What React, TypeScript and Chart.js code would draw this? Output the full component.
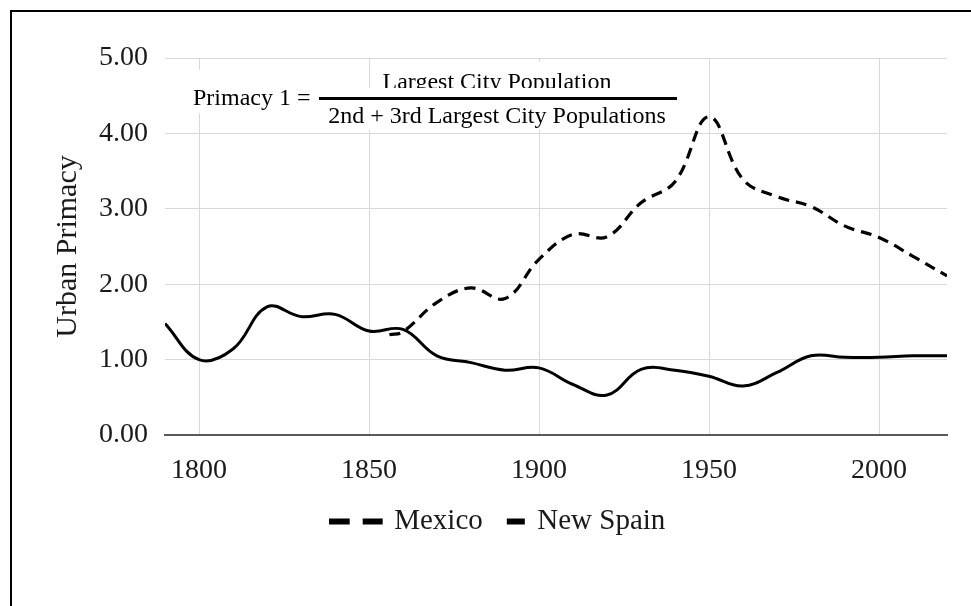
import React, { useEffect, useRef } from "react";
import { Chart, registerables } from "chart.js";

Chart.register(...registerables);

// ---- Data ----
const newSpainYears = [1790, 1800, 1810, 1820, 1830, 1840, 1850, 1860, 1870, 1880, 1890, 1900, 1910, 1920, 1930, 1940, 1950, 1960, 1970, 1980, 1990, 2000, 2010, 2020];
const newSpainValues = [1.48, 1.0, 1.14, 1.7, 1.57, 1.6, 1.38, 1.4, 1.05, 0.96, 0.86, 0.89, 0.67, 0.53, 0.87, 0.86, 0.78, 0.65, 0.83, 1.05, 1.03, 1.03, 1.05, 1.05];
const mexicoYears = [1856, 1860, 1870, 1880, 1890, 1900, 1910, 1920, 1930, 1940, 1950, 1960, 1970, 1980, 1990, 2000, 2010, 2020];
const mexicoValues = [1.33, 1.37, 1.76, 1.95, 1.81, 2.33, 2.66, 2.63, 3.08, 3.36, 4.22, 3.39, 3.16, 3.03, 2.77, 2.62, 2.37, 2.11];
const xTickValues = [1800, 1850, 1900, 1950, 2000];
const seriesNames = ["Mexico", "New Spain"];
const yAxisTitle = "Urban Primacy";
const formulaLeft = "Primacy 1 =";
const formulaTop = "Largest City Population";
const formulaBottom = "2nd + 3rd Largest City Populations";

const FONT = '"Liberation Serif", "Times New Roman", serif';
const TEXT = "#1a1a1a";

function makeMarker(width: number, segments: [number, number][]) {
  const c = document.createElement("canvas");
  c.width = width;
  c.height = 8;
  const g = c.getContext("2d")!;
  g.fillStyle = "#000";
  segments.forEach(([a, b]) => g.fillRect(a, 1, b - a, 6));
  return c;
}

const formulaPlugin = {
  id: "formula",
  afterLayout(chart: any) {
    // centre the legend on the whole frame rather than on the plot
    const lg = chart.legend;
    if (lg) {
      lg.left += 28;
      lg.right += 28;
    }
  },
  beforeDatasetsDraw(chart: any) {
    const ctx = chart.ctx as CanvasRenderingContext2D;
    ctx.save();
    ctx.fillStyle = "#fff";
    ctx.fillRect(180, 58, 124, 43);
    ctx.fillRect(363, 50, 243, 28);
    ctx.font = `24px ${FONT}`;
    ctx.fillStyle = "#000";
    ctx.textBaseline = "alphabetic";
    ctx.textAlign = "left";
    ctx.fillText(formulaLeft, 181, 93);
    ctx.textAlign = "center";
    ctx.fillText(formulaTop, 485, 77);
    ctx.fillStyle = "#fff";
    ctx.fillRect(307, 76, 358, 42);
    ctx.fillStyle = "#000";
    ctx.fillText(formulaBottom, 485, 111);
    ctx.fillRect(307, 85, 358, 3);
    ctx.restore();
  },
};

export default function App() {
  const ref = useRef<HTMLCanvasElement>(null);

  useEffect(() => {
    if (!ref.current) return;
    const markers = [
      makeMarker(72, [[0, 21], [34, 54]]),
      makeMarker(36, [[17, 35]]),
    ];
    const chart = new Chart(ref.current, {
      type: "line",
      data: {
        datasets: [
          {
            label: seriesNames[0],
            data: mexicoYears.map((x, i) => ({ x, y: mexicoValues[i] })),
            borderColor: "#000",
            backgroundColor: "#000",
            borderWidth: 3.2,
            borderDash: [11, 7],
            tension: 0.4,
            pointRadius: 0,
            fill: false,
          },
          {
            label: seriesNames[1],
            data: newSpainYears.map((x, i) => ({ x, y: newSpainValues[i] })),
            borderColor: "#000",
            backgroundColor: "#000",
            borderWidth: 3,
            tension: 0.4,
            pointRadius: 0,
            fill: false,
          },
        ],
      },
      options: {
        animation: false,
        responsive: false,
        layout: { padding: { top: 46, right: 37, bottom: 26, left: 0 } },
        plugins: {
          tooltip: { enabled: false },
          legend: {
            position: "bottom",
            labels: {
              usePointStyle: true,
              pointStyleWidth: 30,
              boxHeight: 8,
              padding: 10,
              color: TEXT,
              font: { family: FONT, size: 29 },
              generateLabels: (c: any) => {
                const items = (Chart.defaults.plugins.legend.labels as any).generateLabels(c);
                return items.map((it: any, i: number) => ({ ...it, pointStyle: markers[i] }));
              },
            },
          },
        },
        scales: {
          x: {
            type: "linear",
            min: 1790,
            max: 2020,
            afterBuildTicks: (s: any) => {
              s.ticks = xTickValues.map((v) => ({ value: v }));
            },
            afterFit: (s: any) => {
              s.height = 62;
            },
            grid: { color: "#d9d9d9", lineWidth: 1, drawTicks: false },
            border: { display: true, color: "#595959", width: 2 },
            ticks: {
              padding: 19,
              color: TEXT,
              font: { family: FONT, size: 28 },
              callback: (v: any) => String(v),
            },
          },
          y: {
            min: 0,
            max: 5,
            ticks: {
              stepSize: 1,
              padding: 17,
              color: TEXT,
              font: { family: FONT, size: 28 },
              callback: (v: any) => Number(v).toFixed(2),
            },
            afterFit: (s: any) => {
              s.width = 153;
            },
            grid: { color: "#d9d9d9", lineWidth: 1, drawTicks: false },
            border: { display: false },
            title: {
              display: true,
              text: yAxisTitle,
              color: TEXT,
              font: { family: FONT, size: 30 },
              padding: { top: 38, bottom: 0 },
            },
          },
        },
      },
      plugins: [formulaPlugin],
    });
    return () => chart.destroy();
  }, []);

  return (
    <div style={{ position: "fixed", left: 0, top: 0, width: 971, height: 606, overflow: "hidden", background: "#fff" }}>
      <div
        style={{
          position: "absolute",
          left: 10,
          top: 10,
          width: 1000,
          height: 700,
          borderTop: "2px solid #000",
          borderLeft: "2px solid #000",
        }}
      />
      <canvas ref={ref} width={972} height={560} style={{ position: "absolute", left: 12, top: 12, width: 972, height: 560 }} />
    </div>
  );
}
